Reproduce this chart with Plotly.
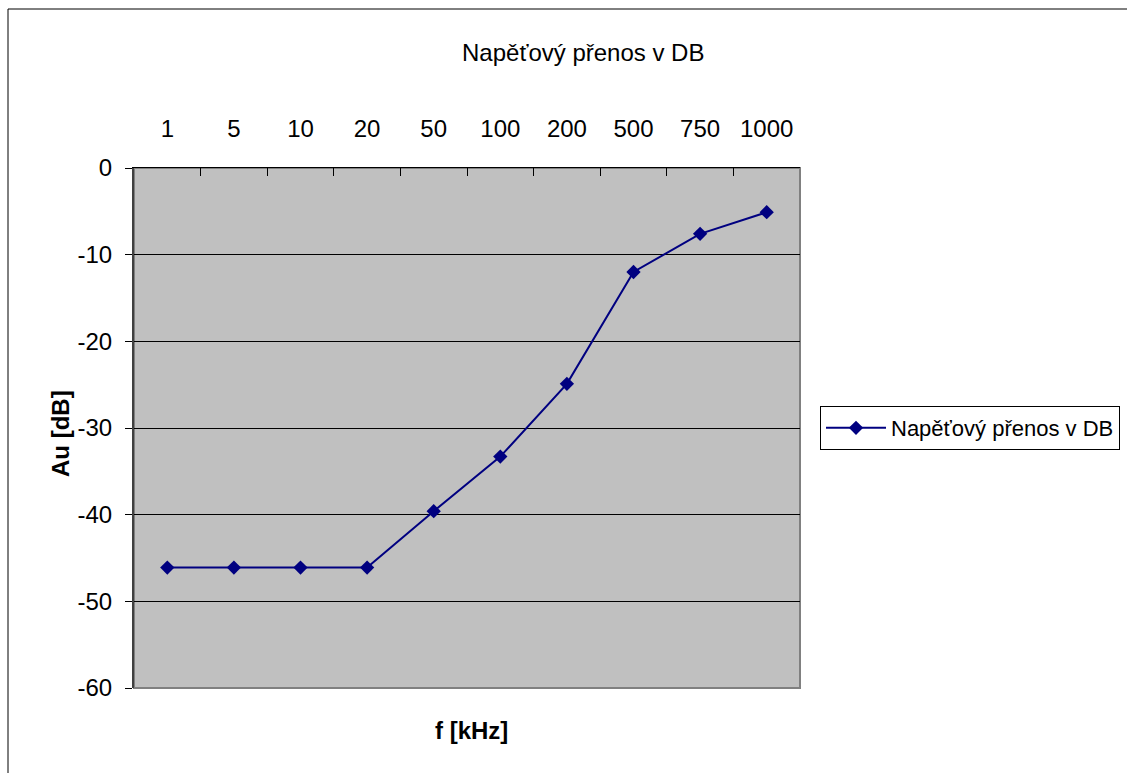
import plotly.graph_objects as go

categories = ["1", "5", "10", "20", "50", "100", "200", "500", "750", "1000"]
values = [-46.1, -46.1, -46.1, -46.1, -39.6, -33.3, -24.9, -12.0, -7.6, -5.1]
series_name = "Napěťový přenos v DB"
y_ticks = [0, -10, -20, -30, -40, -50, -60]
y_tick_text = ["0", "-10", "-20", "-30", "-40", "-50", "-60"]

W, H = 1127, 773
L, R, T, B = 134, 800, 168, 688


def px(x):
    return (x - L) / (R - L)


def py(y):
    return (B - y) / (B - T)


FONT = "Arial, 'Liberation Sans', sans-serif"

fig = go.Figure()
fig.add_trace(go.Scatter(
    x=categories, y=values, mode="lines+markers", name=series_name,
    line=dict(color="#000080", width=2),
    marker=dict(symbol="diamond", size=11, color="#000080"),
))

fig.update_layout(
    width=W, height=H,
    margin=dict(l=L, r=W - R, t=T, b=H - B, pad=0, autoexpand=False),
    paper_bgcolor="white", plot_bgcolor="#C0C0C0",
    font=dict(family=FONT, size=24, color="black"),
    showlegend=True,
    legend=dict(x=px(820), xanchor="left", y=0.5, yanchor="middle",
                bordercolor="black", borderwidth=1, bgcolor="white",
                itemwidth=60,
                font=dict(size=22, family=FONT)),
    xaxis=dict(type="category", side="top", ticks="inside", tickson="boundaries",
               range=[-0.5, len(categories) - 0.5], automargin=False,
               ticklen=8, tickcolor="black", showline=True, linecolor="black",
               linewidth=1, showgrid=False, ticklabelstandoff=20,
               tickfont=dict(size=24)),
    yaxis=dict(range=[-60, 0], tickvals=y_ticks, ticktext=y_tick_text,
               ticks="outside", ticklen=7, automargin=False,
               tickcolor="black", showline=True, linecolor="#404040", linewidth=2,
               showgrid=True, gridcolor="black", gridwidth=1, zeroline=False,
               ticklabelstandoff=8, tickfont=dict(size=24)),
    shapes=[
        dict(type="rect", xref="paper", yref="paper", x0=0, x1=1, y0=0, y1=1,
             line=dict(color="#808080", width=2), layer="below"),
        dict(type="rect", xref="paper", yref="paper", x0=px(8), x1=px(1160),
             y0=py(800), y1=py(9), line=dict(color="black", width=1)),
    ],
    annotations=[
        dict(text=series_name, xref="paper", yref="paper", x=px(583), y=py(53),
             xanchor="center", yanchor="middle", showarrow=False,
             font=dict(size=24, family=FONT)),
        dict(text="<b>Au [dB]</b>", xref="paper", yref="paper", x=px(60), y=py(434),
             xanchor="center", yanchor="middle", showarrow=False, textangle=-90,
             font=dict(size=24, family=FONT)),
        dict(text="<b>f [kHz]</b>", xref="paper", yref="paper", x=px(471), y=py(730),
             xanchor="center", yanchor="middle", showarrow=False,
             font=dict(size=24, family=FONT)),
    ],
)

fig.write_html("out.html")
